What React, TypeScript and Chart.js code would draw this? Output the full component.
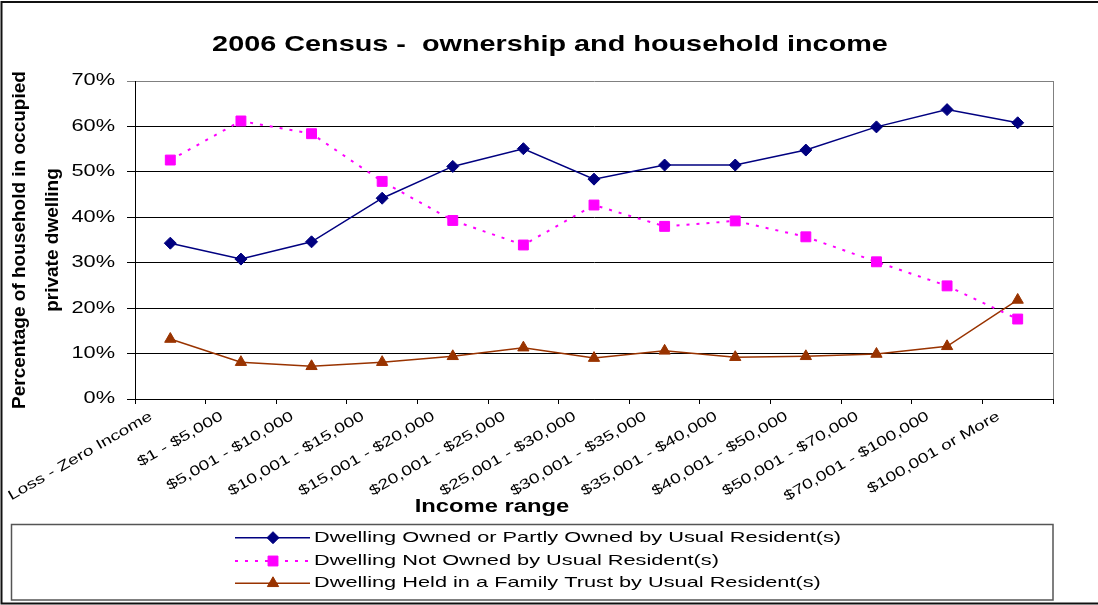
import React, { useEffect, useRef } from 'react';
import { Chart, registerables } from 'chart.js';

Chart.register(...registerables);

const TITLE = '2006 Census -  ownership and household income';
const Y_TITLE_LINES = ['Percentage of household in occupied', 'private dwelling'];
const X_TITLE = 'Income range';

const categories = [
  'Loss - Zero Income',
  '$1 - $5,000',
  '$5,001 - $10,000',
  '$10,001 - $15,000',
  '$15,001 - $20,000',
  '$20,001 - $25,000',
  '$25,001 - $30,000',
  '$30,001 - $35,000',
  '$35,001 - $40,000',
  '$40,001 - $50,000',
  '$50,001 - $70,000',
  '$70,001 - $100,000',
  '$100,001 or More',
];

const seriesLabels = [
  'Dwelling Owned or Partly Owned by Usual Resident(s)',
  'Dwelling Not Owned by Usual Resident(s)',
  'Dwelling Held in a Family Trust by Usual Resident(s)',
];

const ownedValues = [34.3, 30.8, 34.6, 44.2, 51.2, 55.1, 48.4, 51.5, 51.5, 54.8, 59.9, 63.7, 60.8];
const notOwnedValues = [52.6, 61.2, 58.4, 47.9, 39.3, 33.9, 42.7, 38.0, 39.2, 35.7, 30.2, 24.9, 17.6];
const trustValues = [13.2, 8.1, 7.2, 8.1, 9.4, 11.3, 9.0, 10.6, 9.2, 9.4, 9.9, 11.6, 21.8];

const yMin = 0;
const yMax = 70;
const yStep = 10;

const FONT = 'Arial, "Liberation Sans", Helvetica, sans-serif';

function drawMarker(ctx: CanvasRenderingContext2D, style: string, x: number, y: number, r: number, color: string) {
  ctx.save();
  ctx.fillStyle = color;
  ctx.strokeStyle = color;
  ctx.lineWidth = 1;
  ctx.setLineDash([]);
  ctx.beginPath();
  if (style === 'rectRot') {
    ctx.moveTo(x - r, y);
    ctx.lineTo(x, y - r);
    ctx.lineTo(x + r, y);
    ctx.lineTo(x, y + r);
  } else if (style === 'rect') {
    const s = Math.SQRT1_2 * r;
    ctx.rect(x - s, y - s, 2 * s, 2 * s);
  } else {
    ctx.moveTo(x, y - r);
    ctx.lineTo(x + r * Math.sin(Math.PI * 2 / 3), y + r / 2);
    ctx.lineTo(x - r * Math.sin(Math.PI * 2 / 3), y + r / 2);
  }
  ctx.closePath();
  ctx.fill();
  ctx.stroke();
  ctx.restore();
}

function stretchedText(
  ctx: CanvasRenderingContext2D,
  text: string,
  x: number,
  y: number,
  font: string,
  k: number,
  align: CanvasTextAlign,
  baseline: CanvasTextBaseline,
) {
  ctx.save();
  ctx.font = font;
  ctx.fillStyle = '#000';
  ctx.textAlign = align;
  ctx.textBaseline = baseline;
  ctx.translate(x, y);
  ctx.scale(k, 1);
  ctx.fillText(text, 0, 0);
  ctx.restore();
}

const TICK_STRETCH = 1.36;

const decorPlugin = {
  id: 'decor',
  beforeDraw(chart: any) {
    const ctx = chart.ctx as CanvasRenderingContext2D;
    ctx.save();
    ctx.fillStyle = '#fff';
    ctx.fillRect(0, 0, chart.width, chart.height);
    ctx.restore();
    // horizontally widen tick label glyphs like the reference rendering
    const orig = CanvasRenderingContext2D.prototype.fillText;
    (ctx as any).fillText = function (text: string, x: number, y: number) {
      this.save();
      this.translate(x, y);
      this.scale(TICK_STRETCH, 1);
      orig.call(this, text, 0, 0);
      this.restore();
    };
  },
  afterDraw(chart: any) {
    const ctx = chart.ctx as CanvasRenderingContext2D;
    delete (ctx as any).fillText;
    const area = chart.chartArea;

    // plot area right border (gray)
    ctx.save();
    ctx.strokeStyle = '#808080';
    ctx.lineWidth = 1;
    ctx.beginPath();
    ctx.moveTo(Math.round(area.right) + 0.5, area.top);
    ctx.lineTo(Math.round(area.right) + 0.5, area.bottom);
    ctx.stroke();
    ctx.restore();

    // chart title
    stretchedText(ctx, TITLE, 550, 45, `bold 22px ${FONT}`, 1.31, 'center', 'middle');

    // y-axis title (two rotated lines)
    const yBaselines = [25, 58];
    Y_TITLE_LINES.forEach((line, i) => {
      ctx.save();
      ctx.font = `bold 19px ${FONT}`;
      ctx.fillStyle = '#000';
      ctx.textAlign = 'center';
      ctx.textBaseline = 'alphabetic';
      ctx.translate(yBaselines[i], (area.top + area.bottom) / 2);
      ctx.rotate(-Math.PI / 2);
      ctx.fillText(line, 0, 0);
      ctx.restore();
    });

    // x-axis title
    stretchedText(ctx, X_TITLE, 492, 512, `bold 18px ${FONT}`, 1.32, 'center', 'alphabetic');

    // legend box
    ctx.save();
    ctx.strokeStyle = '#555';
    ctx.lineWidth = 1.5;
    ctx.strokeRect(11.5, 524.5, 1041.5, 75.5);
    ctx.restore();

    const rows = [537.7, 561, 583.3];
    chart.data.datasets.forEach((ds: any, i: number) => {
      const y = rows[i];
      ctx.save();
      ctx.strokeStyle = ds.borderColor;
      ctx.lineWidth = ds.borderWidth;
      ctx.setLineDash(ds.borderDash || []);
      ctx.beginPath();
      ctx.moveTo(235, y);
      ctx.lineTo(310, y);
      ctx.stroke();
      ctx.restore();
      drawMarker(ctx, ds.pointStyle, 273, y, ds.pointRadius, ds.pointBackgroundColor);
      stretchedText(ctx, ds.label, 314, y, `15px ${FONT}`, 1.45, 'left', 'middle');
    });

    // outer chart border (clipped on the right in the reference)
    ctx.save();
    ctx.strokeStyle = '#111';
    ctx.lineWidth = 2;
    ctx.strokeRect(1.5, 2, chart.width + 20, 601.5);
    ctx.restore();
  },
};

export default function App() {
  const canvasRef = useRef<HTMLCanvasElement | null>(null);

  useEffect(() => {
    const canvas = canvasRef.current;
    if (!canvas) return;
    const chart = new Chart(canvas, {
      type: 'line',
      data: {
        labels: categories,
        datasets: [
          {
            label: seriesLabels[0],
            data: ownedValues,
            borderColor: '#000080',
            backgroundColor: '#000080',
            borderWidth: 1.5,
            pointStyle: 'rectRot',
            pointRadius: 6,
            pointBackgroundColor: '#000080',
            pointBorderColor: '#000080',
            pointBorderWidth: 1,
            tension: 0,
            fill: false,
          },
          {
            label: seriesLabels[1],
            data: notOwnedValues,
            borderColor: '#FF00FF',
            backgroundColor: '#FF00FF',
            borderWidth: 2,
            borderDash: [3, 7],
            pointStyle: 'rect',
            pointRadius: 7,
            pointBackgroundColor: '#FF00FF',
            pointBorderColor: '#FF00FF',
            pointBorderWidth: 1,
            tension: 0,
            fill: false,
          },
          {
            label: seriesLabels[2],
            data: trustValues,
            borderColor: '#993300',
            backgroundColor: '#993300',
            borderWidth: 1.5,
            pointStyle: 'triangle',
            pointRadius: 6.5,
            pointBackgroundColor: '#993300',
            pointBorderColor: '#993300',
            pointBorderWidth: 1,
            tension: 0,
            fill: false,
          },
        ],
      },
      options: {
        responsive: false,
        animation: false,
        events: [],
        layout: { padding: { top: 81, right: 45, bottom: 0, left: 0 } },
        plugins: {
          legend: { display: false },
          title: { display: false },
          tooltip: { enabled: false },
        },
        scales: {
          x: {
            type: 'category',
            offset: true,
            grid: {
              display: true,
              drawOnChartArea: false,
              drawTicks: true,
              tickLength: 5,
              color: '#000',
              lineWidth: 1,
              offset: true,
            },
            border: { display: true, color: '#000', width: 1 },
            ticks: {
              autoSkip: false,
              minRotation: 30,
              maxRotation: 30,
              color: '#000',
              font: { family: FONT, size: 14 },
              padding: 4,
              labelOffset: -19,
            },
            afterFit: (s: any) => {
              s.height = 206;
              s.paddingLeft = 0;
              s.paddingRight = 0;
            },
          },
          y: {
            min: yMin,
            max: yMax,
            grid: {
              color: (c: any) => (c.tick && c.tick.value === yMax ? '#808080' : '#000'),
              lineWidth: 1,
              tickLength: 8,
            },
            border: { display: true, color: '#000', width: 1 },
            ticks: {
              stepSize: yStep,
              color: '#000',
              font: { family: FONT, size: 16 },
              padding: 12,
              callback: (v: any) => `${v}%`,
            },
            afterFit: (s: any) => {
              s.width = 135;
            },
          },
        },
      },
      plugins: [decorPlugin],
    });
    return () => chart.destroy();
  }, []);

  return (
    <div style={{ position: 'fixed', left: 0, top: 0, width: 1098, height: 605, background: '#fff' }}>
      <canvas ref={canvasRef} width={1098} height={605} style={{ display: 'block' }} />
    </div>
  );
}
